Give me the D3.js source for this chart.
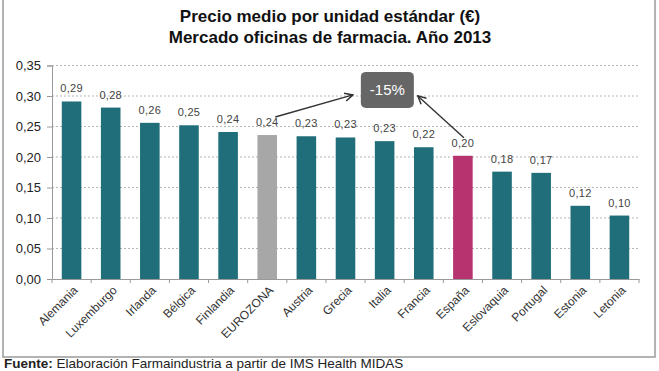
<!DOCTYPE html>
<html>
<head>
<meta charset="utf-8">
<script src="https://cdn.jsdelivr.net/npm/d3@7"></script>
<style>
  body { margin: 0; background: #fff; }
  svg { display: block; font-family: "Liberation Sans", Arial, sans-serif; }
</style>
</head>
<body>
<svg id="chart" width="659" height="371"></svg>
<script>
// data
const countries = ["Alemania", "Luxemburgo", "Irlanda", "Bélgica", "Finlandia", "EUROZONA", "Austria",
  "Grecia", "Italia", "Francia", "España", "Eslovaquia", "Portugal", "Estonia", "Letonia"]
const prices = [0.291, 0.281, 0.256, 0.252, 0.241, 0.236, 0.234, 0.232, 0.226, 0.216, 0.202, 0.176, 0.174, 0.120, 0.104]
const yTicks = [0, 0.05, 0.10, 0.15, 0.20, 0.25, 0.30, 0.35]
const titleLines = ["Precio medio por unidad estándar (€)", "Mercado oficinas de farmacia. Año 2013"]
const note = { label: "-15%", from: "EUROZONA", to: "España", nearCategory: "Italia", atValue: 0.31 }

const colors = { base: "#1f6e79", EUROZONA: "#a7a7a7", "España": "#b6336f" }

const width = 659, height = 371
const margin = { top: 65.5, right: 20, bottom: 92, left: 52 }

const svg = d3.select('#chart')
const locale = d3.formatLocale({ decimal: ",", thousands: ".", grouping: [3], currency: ["", "€"] })
const fmt = locale.format(".2f")

const x = d3.scaleBand()
  .domain(countries)
  .range([margin.left, width - margin.right])
  .paddingInner(0.5)
  .paddingOuter(0.25)

const y = d3.scaleLinear()
  .domain([0, 0.35])
  .range([height - margin.bottom, margin.top])

// frame
svg.append('rect')
  .attr('x', 3).attr('y', -2)
  .attr('width', 652).attr('height', 359)
  .attr('fill', 'none')
  .attr('stroke', '#9a9a9a')
  .attr('stroke-width', 1.5)

// title
svg.append('g').selectAll('text')
  .data(titleLines)
  .join('text')
  .attr('x', 330)
  .attr('y', (d, i) => 22 + i * 21)
  .attr('text-anchor', 'middle')
  .attr('font-size', 17)
  .attr('font-weight', 'bold')
  .attr('fill', '#111')
  .text(d => d)

// grid
svg.append('g').selectAll('line')
  .data(yTicks.filter(d => d > 0))
  .join('line')
  .attr('x1', margin.left).attr('x2', width - margin.right)
  .attr('y1', d => y(d)).attr('y2', d => y(d))
  .attr('stroke', '#b5b5b5')
  .attr('stroke-dasharray', '2,2')

// y axis
const yAxis = svg.append('g')
  .attr('transform', `translate(${margin.left},0)`)
  .call(d3.axisLeft(y).tickValues(yTicks).tickFormat(fmt).tickSize(5).tickPadding(6))
yAxis.select('.domain').attr('stroke', '#999')
yAxis.selectAll('.tick line').attr('stroke', '#999')
yAxis.selectAll('.tick text')
  .attr('font-size', 13)
  .attr('fill', '#222')
  .attr('font-family', '"Liberation Sans", Arial, sans-serif')

// bars
svg.append('g').selectAll('rect')
  .data(countries)
  .join('rect')
  .attr('x', d => x(d))
  .attr('width', x.bandwidth())
  .attr('y', (d, i) => y(prices[i]))
  .attr('height', (d, i) => y(0) - y(prices[i]))
  .attr('fill', d => colors[d] || colors.base)

// value labels
svg.append('g').selectAll('text')
  .data(countries)
  .join('text')
  .attr('x', d => x(d) + x.bandwidth() / 2)
  .attr('y', (d, i) => y(prices[i]) - 9)
  .attr('text-anchor', 'middle')
  .attr('font-size', 11)
  .attr('letter-spacing', 0.3)
  .attr('fill', '#444')
  .text((d, i) => fmt(prices[i]))

// x axis
const xAxis = svg.append('g')
  .attr('transform', `translate(0,${y(0)})`)
  .call(d3.axisBottom(x).tickSize(0).tickPadding(0))
xAxis.select('.domain').attr('stroke', '#999')
xAxis.selectAll('.tick text')
  .attr('font-size', 12)
  .attr('fill', '#333')
  .attr('font-family', '"Liberation Sans", Arial, sans-serif')
  .attr('text-anchor', 'end')
  .attr('dy', '0.35em')
  .attr('transform', 'translate(4,9) rotate(-45)')

// ticks between bands
svg.append('g').selectAll('line')
  .data(d3.range(countries.length + 1))
  .join('line')
  .attr('x1', i => margin.left + i * x.step())
  .attr('x2', i => margin.left + i * x.step())
  .attr('y1', y(0)).attr('y2', y(0) + 4)
  .attr('stroke', '#999')

// -15% annotation
const boxW = 53, boxH = 36
const boxX = x(note.nearCategory) - 14
const boxY = y(note.atValue) - boxH / 2
const ann = svg.append('g')

svg.append('defs').append('marker')
  .attr('id', 'head')
  .attr('viewBox', '0 0 10 10')
  .attr('refX', 9).attr('refY', 5)
  .attr('markerWidth', 10).attr('markerHeight', 10)
  .attr('markerUnits', 'userSpaceOnUse')
  .attr('orient', 'auto')
  .append('path')
  .attr('d', 'M1,1 L9,5 L1,9')
  .attr('fill', 'none')
  .attr('stroke', '#333')
  .attr('stroke-width', 1.5)

const iFrom = countries.indexOf(note.from)
const iTo = countries.indexOf(note.to)
const arrows = [
  { x1: x(note.from) + x.bandwidth() / 2 + 8, y1: y(prices[iFrom]) - 18, x2: boxX - 8, y2: boxY + boxH / 2 + 5 },
  { x1: x(note.to) + x.bandwidth() / 2 + 1, y1: y(prices[iTo]) - 18, x2: boxX + boxW + 4, y2: boxY + boxH / 2 + 6 }
]
ann.selectAll('line')
  .data(arrows)
  .join('line')
  .attr('x1', d => d.x1).attr('y1', d => d.y1)
  .attr('x2', d => d.x2).attr('y2', d => d.y2)
  .attr('stroke', '#333')
  .attr('stroke-width', 1.4)
  .attr('marker-end', 'url(#head)')

ann.append('rect')
  .attr('x', boxX).attr('y', boxY)
  .attr('width', boxW).attr('height', boxH)
  .attr('rx', 5)
  .attr('fill', '#666')

ann.append('text')
  .attr('x', boxX + boxW / 2)
  .attr('y', boxY + boxH / 2 + 5)
  .attr('text-anchor', 'middle')
  .attr('font-size', 15)
  .attr('fill', '#fff')
  .text(note.label)

// source
const src = svg.append('text')
  .attr('x', 4).attr('y', 367.5)
  .attr('font-size', 13.5)
  .attr('fill', '#222')
src.append('tspan').attr('font-weight', 'bold').text('Fuente:')
src.append('tspan').text(' Elaboración Farmaindustria a partir de IMS Health MIDAS')
</script>
</body>
</html>
